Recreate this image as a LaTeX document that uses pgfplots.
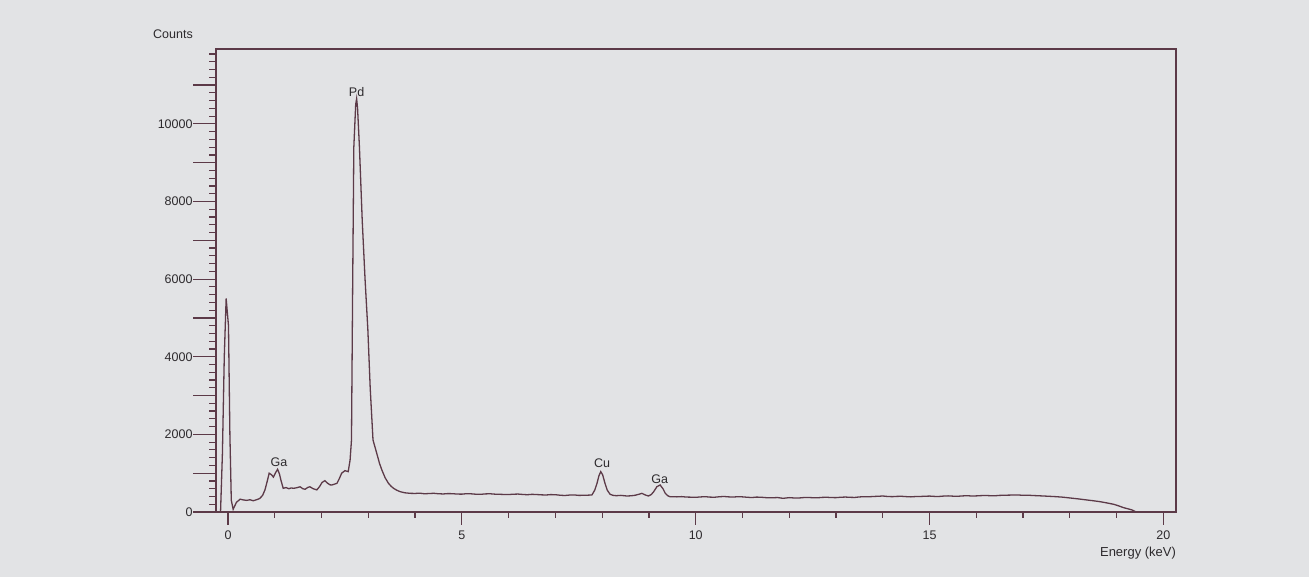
\documentclass[border=0pt]{standalone}
\usepackage{fontspec}
\setmainfont{Liberation Sans}
\usepackage{pgfplots}
\pgfplotsset{compat=1.18}
\definecolor{bgc}{RGB}{226,227,229}
\definecolor{linec}{RGB}{92,58,72}
\definecolor{txtc}{RGB}{45,42,45}
\begin{document}
\begin{tikzpicture}[x=1pt,y=1pt]
\useasboundingbox (0,0) rectangle (1309,577);
\fill[bgc] (0,0) rectangle (1309,577);
\begin{axis}[
  at={(216pt,65pt)}, anchor=south west,
  scale only axis, width=960pt, height=463pt,
  xmin=-0.257, xmax=20.27, ymin=0, ymax=11930,
  axis line style={linec, line width=1.3pt},
  tick align=outside, xtick pos=lower, ytick pos=left,
  xtick={0,5,10,15,20},
  minor xtick={1,2,3,4,6,7,8,9,11,12,13,14,16,17,18,19},
  ytick={0,2000,4000,6000,8000,10000},
  minor ytick={200,400,...,11800},
  extra y ticks={1000,3000,5000,7000,9000,11000},
  extra y tick labels={},
  extra y tick style={/pgfplots/major tick length=13pt, yticklabel=\empty, tick style={linec, line width=1.2pt}},
  xtick style={/pgfplots/major tick length=13pt, /pgfplots/minor tick length=6pt, linec, line width=1.2pt},
  ytick style={/pgfplots/major tick length=23pt, /pgfplots/minor tick length=7pt, linec, line width=1.2pt},
  scaled y ticks=false,
  /pgf/number format/assume math mode=true,
  /pgf/number format/1000 sep={},
  every tick label/.append style={font=\fontsize{12.5}{14}\selectfont, text=txtc},
  yticklabel style={anchor=east, inner sep=0pt, xshift=-19pt},
  xticklabel style={anchor=north, inner sep=0pt, yshift=-14pt},
  clip=false,
]
\addplot[linec, line width=1.3pt] coordinates {
(-0.16,0) (-0.12,1500) (-0.08,4000) (-0.04,5500) (0.01,4800) (0.04,2000) (0.07,300)
(0.11,70) (0.18,250) (0.26,330) (0.33,310) (0.40,300) (0.47,315) (0.54,290) (0.62,320) (0.68,350)
(0.74,430) (0.79,570) (0.84,800) (0.88,1000) (0.93,960) (0.97,900) (1.02,1020) (1.06,1100)
(1.10,980) (1.13,825) (1.18,610) (1.24,630) (1.30,600) (1.35,620) (1.40,610) (1.47,625)
(1.54,650) (1.60,600) (1.65,585) (1.70,630) (1.75,650) (1.82,600) (1.90,570) (1.96,660)
(2.01,760) (2.07,807) (2.13,740) (2.18,700) (2.22,696) (2.28,720) (2.33,740) (2.38,860)
(2.43,1000) (2.50,1065) (2.57,1040) (2.61,1340) (2.64,1856) (2.665,5800) (2.69,9400)
(2.73,10500) (2.75,10650) (2.77,10400) (2.81,9400) (2.87,7500) (2.93,6000) (2.99,4700)
(3.04,3200) (3.10,1856) (3.18,1512) (3.24,1250) (3.29,1082) (3.36,880) (3.43,740) (3.49,660)
(3.54,610) (3.61,560) (3.68,524) (3.78,495) (3.89,481) (4.0,478) (4.1,485) (4.2,470) (4.3,476)
(4.4,482) (4.5,470) (4.6,465) (4.7,474) (4.8,472) (4.9,462) (5.0,460) (5.1,472) (5.2,468)
(5.3,458) (5.4,455) (5.5,466) (5.6,470) (5.7,460) (5.8,456) (5.9,452) (6.0,450) (6.1,458)
(6.2,462) (6.3,452) (6.4,445) (6.5,455) (6.6,450) (6.7,442) (6.8,438) (6.9,448) (7.0,445)
(7.1,432) (7.2,425) (7.3,436) (7.4,440) (7.5,428) (7.6,430) (7.7,434) (7.78,438) (7.84,560)
(7.89,740) (7.93,930) (7.97,1040) (8.01,960) (8.06,740) (8.11,560) (8.17,456) (8.23,430)
(8.3,420) (8.4,428) (8.53,412) (8.62,418) (8.7,430) (8.78,455) (8.85,480) (8.92,440) (8.99,412)
(9.05,450) (9.1,520) (9.17,652) (9.24,696) (9.30,600) (9.35,480) (9.40,420) (9.45,395)
(9.6,390) (9.7,396) (9.8,385) (9.9,382) (10.0,378) (10.1,388) (10.2,395) (10.3,384) (10.4,380)
(10.5,392) (10.6,400) (10.7,390) (10.8,385) (10.9,394) (11.0,390) (11.1,380) (11.2,372)
(11.3,384) (11.4,380) (11.5,370) (11.6,365) (11.75,372) (11.87,352) (12.0,370) (12.1,362)
(12.2,360) (12.3,371) (12.4,375) (12.5,368) (12.6,365) (12.7,376) (12.8,380) (12.9,372)
(13.0,370) (13.1,380) (13.2,385) (13.3,378) (13.4,375) (13.5,388) (13.6,395) (13.7,392)
(13.8,400) (13.9,405) (14.0,412) (14.1,400) (14.2,395) (14.3,402) (14.4,405) (14.5,396)
(14.6,390) (14.7,398) (14.8,400) (14.9,406) (15.0,410) (15.1,402) (15.2,400) (15.3,410)
(15.4,415) (15.5,408) (15.6,405) (15.7,414) (15.8,420) (15.9,412) (16.0,415) (16.1,422)
(16.2,425) (16.3,420) (16.4,418) (16.5,428) (16.6,432) (16.75,436) (16.87,440) (17.0,430)
(17.1,434) (17.2,425) (17.3,420) (17.44,412) (17.55,405) (17.7,395) (17.82,385) (17.94,370)
(18.05,355) (18.2,335) (18.37,309) (18.5,290) (18.65,265) (18.8,232) (18.94,198) (19.05,155)
(19.15,111) (19.25,80) (19.33,52) (19.42,0)
};
\node[text=txtc, font=\fontsize{12.5}{14}\selectfont] at (axis cs:2.75,10830) {Pd};
\node[text=txtc, font=\fontsize{12.5}{14}\selectfont] at (axis cs:1.09,1280) {Ga};
\node[text=txtc, font=\fontsize{12.5}{14}\selectfont] at (axis cs:8.0,1250) {Cu};
\node[text=txtc, font=\fontsize{12.5}{14}\selectfont] at (axis cs:9.23,845) {Ga};
\end{axis}
\node[text=txtc, font=\fontsize{12.5}{14}\selectfont] at (173,543) {Counts};
\node[text=txtc, font=\fontsize{13}{15}\selectfont] at (1138,24) {Energy (keV)};
\end{tikzpicture}
\end{document}
